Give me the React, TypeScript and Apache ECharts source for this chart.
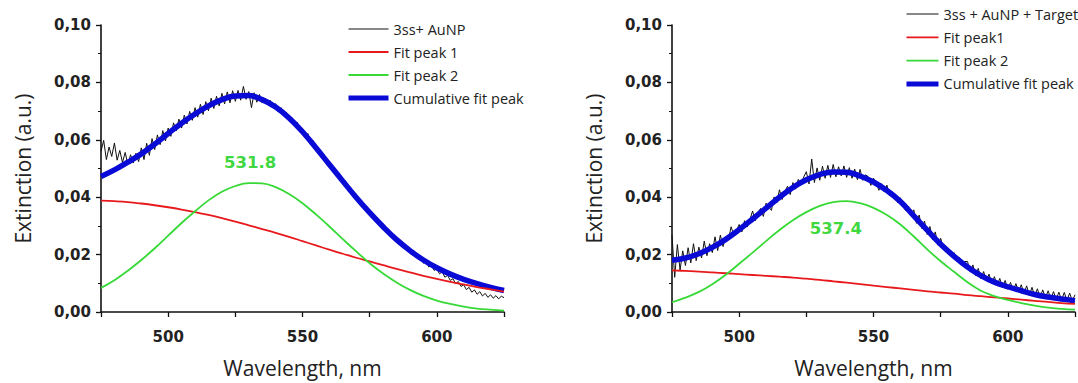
import React, { useEffect, useRef } from "react";
import * as echarts from "echarts";

// Wavelength grid: first sample and sampling steps (nm)
const WL_START = 475;
const RAW_STEP = 1;
const FIT_STEP = 5;
// All extinction values below are in units of 1e-4 a.u.
const UNIT = 1e-4;

// ---------- Left panel: 3ss + AuNP ----------
const leftRawName = "3ss+ AuNP";
const leftPeak1Name = "Fit peak 1";
const leftPeak2Name = "Fit peak 2";
const cumName = "Cumulative fit peak";
const leftPeakLabel = "531.8";
const leftPeakLabelPos = [530.5, 0.0522];

const leftRaw = [
  560, 598, 531, 575, 542, 589, 529, 563, 521, 556,
  514, 548, 519, 553, 524, 572, 531, 588, 546, 604,
  566, 617, 583, 632, 596, 641, 612, 659, 631, 672,
  641, 686, 655, 699, 668, 712, 679, 724, 688, 733,
  701, 745, 709, 752, 718, 762, 725, 767, 729, 771,
  734, 772, 738, 786, 741, 768, 712, 764, 731, 758,
  728, 744, 722, 737, 711, 726, 697, 712, 684, 696,
  668, 679, 648, 662, 631, 640, 609, 622, 588, 597,
  565, 571, 541, 550, 518, 524, 495, 503, 472, 479,
  449, 457, 426, 433, 404, 411, 381, 389, 360, 368,
  339, 347, 319, 327, 300, 306, 281, 289, 263, 270,
  245, 251, 229, 236, 213, 220, 198, 206, 185, 192,
  170, 177, 157, 164, 145, 150, 133, 140, 121, 128,
  110, 116, 99, 106, 89, 95, 78, 86, 69, 77,
  62, 71, 56, 65, 51, 60, 48, 57, 46, 55,
  50,
];
const leftPeak1 = [
  388, 386, 383, 378, 372, 365, 357, 348, 338, 327,
  315, 302, 289, 276, 262, 247, 232, 217, 203, 189,
  176, 163, 150, 138, 126, 115, 105, 96, 87, 79, 71,
];
const leftPeak2 = [
  84, 111, 144, 181, 222, 266, 310, 351, 389, 419,
  439, 449, 448, 435, 411, 379, 340, 298, 254, 211,
  170, 134, 103, 77, 56, 40, 28, 19, 12, 8, 5,
];
const leftCum = [
  472, 495, 522, 551, 585, 622, 658, 690, 718, 740,
  753, 754, 740, 714, 676, 628, 572, 514, 456, 399,
  346, 297, 252, 214, 181, 154, 132, 114, 99, 86, 75,
];

// ---------- Right panel: 3ss + AuNP + Target ----------
const rightRawName = "3ss + AuNP + Target";
const rightPeak1Name = "Fit peak1";
const rightPeak2Name = "Fit peak 2";
const rightPeakLabel = "537.4";
const rightPeakLabelPos = [536, 0.029];

const rightRaw = [
  268, 121, 235, 146, 213, 162, 224, 171, 238, 179,
  226, 188, 247, 196, 238, 207, 262, 214, 268, 228,
  262, 251, 297, 268, 284, 305, 279, 318, 296, 322,
  352, 318, 347, 361, 333, 379, 366, 354, 401, 380,
  426, 392, 421, 438, 409, 451, 428, 462, 447, 470,
  489, 446, 533, 451, 502, 459, 508, 466, 511, 469,
  514, 471, 506, 474, 509, 469, 503, 466, 498, 461,
  497, 459, 478, 472, 441, 466, 451, 424, 447, 418,
  442, 404, 419, 409, 381, 398, 371, 352, 369, 338,
  356, 309, 338, 291, 317, 270, 298, 252, 279, 233,
  257, 221, 228, 214, 198, 207, 181, 190, 168, 176,
  176, 139, 164, 127, 152, 116, 141, 108, 132, 99,
  123, 92, 117, 85, 110, 79, 103, 74, 99, 69,
  95, 64, 91, 58, 86, 55, 81, 51, 77, 49,
  74, 46, 71, 44, 69, 42, 68, 40, 66, 39,
  60,
];
const rightPeak1 = [
  145, 143, 141, 138, 135, 132, 129, 126, 123, 120,
  116, 112, 107, 102, 97, 92, 87, 82, 77, 72,
  68, 64, 59, 55, 51, 47, 43, 39, 35, 31, 28,
];
const rightPeak2 = [
  34, 50, 70, 97, 130, 168, 207, 247, 286, 320,
  348, 370, 383, 386, 379, 363, 338, 305, 263, 218,
  177, 140, 104, 74, 55, 42, 31, 22, 15, 11, 8,
];
const rightCum = [
  180, 188, 203, 225, 253, 287, 324, 362, 400, 434,
  461, 479, 488, 487, 474, 453, 423, 385, 335, 285,
  236, 194, 157, 127, 104, 88, 74, 61, 52, 45, 39,
];

// ---------- Styling ----------
const BLACK = "#111111";
const RED = "#e8191c";
const GREEN = "#36d936";
const BLUE = "#0a0ad6";
const LABEL_GREEN = "#40d840";
const NUM_FONT = '"DejaVu Sans", sans-serif';
const TXT_FONT = '"Open Sans", sans-serif';

const toPairs = (arr: number[], step: number) =>
  arr.map((v, i) => [WL_START + i * step, v * UNIT]);

function axesFor(gridIndex: number) {
  const x = {
    type: "value",
    gridIndex,
    min: 475,
    max: 625,
    interval: 25,
    axisLine: { show: true, onZero: false, lineStyle: { color: BLACK, width: 1.6 } },
    axisTick: { show: true, length: 5, lineStyle: { color: BLACK, width: 1.3 } },
    axisLabel: {
      margin: 17,
      fontFamily: NUM_FONT,
      fontWeight: "bold",
      fontSize: 15,
      color: "#222",
      formatter: (v: number) => (Math.round(v) % 50 === 0 ? String(Math.round(v)) : ""),
    },
    splitLine: { show: false },
    name: "Wavelength, nm",
    nameLocation: "middle",
    nameGap: 45,
    nameTextStyle: { fontFamily: TXT_FONT, fontSize: 21, color: "#222" },
  };
  const y = {
    type: "value",
    gridIndex,
    min: 0,
    max: 0.1,
    interval: 0.02,
    axisLine: { show: true, onZero: false, lineStyle: { color: BLACK, width: 1.6 } },
    axisTick: { show: true, length: 5, lineStyle: { color: BLACK, width: 1.3 } },
    minorTick: { show: true, splitNumber: 2, length: 3, lineStyle: { color: BLACK, width: 1 } },
    minorSplitLine: { show: false },
    axisLabel: {
      margin: 10,
      fontFamily: NUM_FONT,
      fontWeight: "bold",
      fontSize: 15,
      color: "#222",
      formatter: (v: number) => v.toFixed(2).replace(".", ","),
    },
    splitLine: { show: false },
    name: "Extinction (a.u.)",
    nameLocation: "middle",
    nameGap: 68,
    nameTextStyle: { fontFamily: TXT_FONT, fontSize: 21, color: "#222" },
  };
  return { x, y };
}

function seriesFor(
  idx: number,
  rawName: string,
  p1Name: string,
  p2Name: string,
  raw: number[],
  p1: number[],
  p2: number[],
  cum: number[],
  label: string,
  labelPos: number[]
) {
  const common = {
    type: "line",
    xAxisIndex: idx,
    yAxisIndex: idx,
    symbol: "none",
    showSymbol: false,
    silent: true,
  };
  return [
    { ...common, name: rawName, data: toPairs(raw, RAW_STEP), color: BLACK, lineStyle: { color: BLACK, width: 1 }, z: 2 },
    { ...common, name: cumName, data: toPairs(cum, FIT_STEP), smooth: 0.4, color: BLUE, lineStyle: { color: BLUE, width: 5.5 }, z: 3 },
    { ...common, name: p1Name, data: toPairs(p1, FIT_STEP), smooth: 0.4, color: RED, lineStyle: { color: RED, width: 1.8 }, z: 4 },
    {
      ...common,
      name: p2Name,
      data: toPairs(p2, FIT_STEP),
      smooth: 0.4,
      color: GREEN,
      lineStyle: { color: GREEN, width: 1.8 },
      z: 5,
      markPoint: {
        symbol: "rect",
        symbolSize: 1,
        silent: true,
        itemStyle: { color: "rgba(0,0,0,0)" },
        label: {
          show: true,
          position: "inside",
          formatter: label,
          color: LABEL_GREEN,
          fontFamily: NUM_FONT,
          fontWeight: "bold",
          fontSize: 16.5,
        },
        data: [{ coord: labelPos }],
      },
    },
  ];
}

function legendFor(left: number, top: number, width: number, names: string[], gap: number) {
  const colors = [BLACK, RED, GREEN, BLUE];
  const widths = [1.2, 1.8, 1.8, 5];
  return {
    orient: "vertical",
    left,
    top,
    itemWidth: width,
    itemHeight: 16,
    itemGap: gap,
    selectedMode: false,
    textStyle: { fontFamily: TXT_FONT, fontSize: 14.5, color: "#222", lineHeight: 16 },
    data: names.map((n, i) => ({
      name: n,
      itemStyle: { color: "rgba(0,0,0,0)", borderWidth: 0, opacity: 0 },
      lineStyle: { color: colors[i], width: widths[i], opacity: 1 },
    })),
  };
}

export default function App() {
  const ref = useRef<HTMLDivElement>(null);
  useEffect(() => {
    document.body.style.margin = "0";
    const chart = echarts.init(ref.current as HTMLDivElement, null, { renderer: "svg" });
    const a0 = axesFor(0);
    const a1 = axesFor(1);
    chart.setOption({
      animation: false,
      backgroundColor: "#ffffff",
      textStyle: { fontFamily: TXT_FONT },
      grid: [
        { left: 101, top: 25, width: 403, height: 296 },
        { left: 672, top: 25, width: 404, height: 296 },
      ],
      xAxis: [a0.x, a1.x],
      yAxis: [a0.y, a1.y],
      legend: [
        legendFor(341, 16, 40, [leftRawName, leftPeak1Name, leftPeak2Name, cumName], 7),
        legendFor(899, 1, 32, [rightRawName, rightPeak1Name, rightPeak2Name, cumName], 7.3),
      ],
      series: [
        ...seriesFor(0, leftRawName, leftPeak1Name, leftPeak2Name, leftRaw, leftPeak1, leftPeak2, leftCum, leftPeakLabel, leftPeakLabelPos),
        ...seriesFor(1, rightRawName, rightPeak1Name, rightPeak2Name, rightRaw, rightPeak1, rightPeak2, rightCum, rightPeakLabel, rightPeakLabelPos),
      ],
    });
    return () => chart.dispose();
  }, []);
  return (
    <div
      ref={ref}
      style={{ position: "absolute", left: 0, top: 0, width: 1078, height: 383, background: "#fff" }}
    />
  );
}
